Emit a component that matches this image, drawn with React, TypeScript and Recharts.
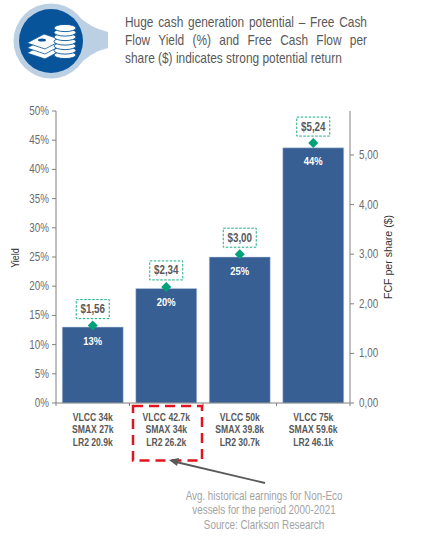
import { ComposedChart, Bar, Line, XAxis, YAxis, LabelList } from "recharts"

const vlcc = ["VLCC 34k", "VLCC 42.7k", "VLCC 50k", "VLCC 75k"]
const smax = ["SMAX 27k", "SMAX 34k", "SMAX 39.8k", "SMAX 59.6k"]
const lr2 = ["LR2 20.9k", "LR2 26.2k", "LR2 30.7k", "LR2 46.1k"]
const yieldPct = [13, 19.6, 25, 43.7]
const yieldLabels = ["13%", "20%", "25%", "44%"]
const fcfPerShare = [1.56, 2.34, 3.0, 5.24]
const leftTicks = [0, 5, 10, 15, 20, 25, 30, 35, 40, 45, 50]
const rightTicks = [0, 1, 2, 3, 4, 5]

const data = vlcc.map((v, i) => ({
  idx: i,
  yield: yieldPct[i],
  fcf: fcfPerShare[i],
}))

const FONT = '"Liberation Sans", Arial, sans-serif'
const BLUE = "#375f93"
const GREEN = "#00a27a"
const GREY = "#808080"
const SQUEEZE = 0.82 // no narrow font installed, so squeeze the regular one

function NarrowText({ x, y, anchor = "middle", size, bold, fill, children }: any) {
  return (
    <text
      transform={`translate(${x},${y}) scale(${SQUEEZE},1)`}
      textAnchor={anchor}
      fontSize={size}
      fontWeight={bold ? "bold" : "normal"}
      fill={fill}
      fontFamily={FONT}
    >
      {children}
    </text>
  )
}

function CategoryTick({ x, payload }: any) {
  const i = payload.value
  const half = 36.75
  return (
    <g>
      <line x1={x - half} x2={x - half} y1={403} y2={406} stroke={GREY} />
      {i === 3 && <line x1={x + half} x2={x + half} y1={403} y2={406} stroke={GREY} />}
      <NarrowText x={x} y={420.5} size={10.5} bold fill="#595959">{vlcc[i]}</NarrowText>
      <NarrowText x={x} y={432.5} size={10.5} bold fill="#595959">{smax[i]}</NarrowText>
      <NarrowText x={x} y={445.5} size={10.5} bold fill="#595959">{lr2[i]}</NarrowText>
    </g>
  )
}

function LeftTick({ x, y, payload }: any) {
  return <NarrowText x={x} y={y + 4} anchor="end" size={12} fill="#6b6b6b">{`${payload.value}%`}</NarrowText>
}

function RightTick({ x, y, payload }: any) {
  return (
    <NarrowText x={x} y={y + 4} anchor="start" size={12} fill="#6b6b6b">
      {payload.value.toFixed(2).replace(".", ",")}
    </NarrowText>
  )
}

function DiamondDot({ cx, cy, index }: any) {
  return (
    <polygon
      key={index}
      points={`${cx},${cy - 5} ${cx + 5},${cy} ${cx},${cy + 5} ${cx - 5},${cy}`}
      fill={GREEN}
    />
  )
}

function FcfLabel({ x, y, value }: any) {
  const txt = "$" + Number(value).toFixed(2).replace(".", ",")
  return (
    <g>
      <rect x={x - 16.5} y={y - 26} width={33} height={19} fill="#fff" stroke={GREEN} strokeWidth={0.9} strokeDasharray="2.5 1.5" />
      <NarrowText x={x} y={y - 12.5} size={12} bold fill="#595959">{txt}</NarrowText>
    </g>
  )
}

function YieldLabel({ x, y, width, index }: any) {
  return <NarrowText x={x + width / 2} y={y + 17.5} size={11.5} bold fill="#fff">{yieldLabels[index]}</NarrowText>
}

function HeaderIcon() {
  const layers = [10, 5, 0]
  return (
    <svg width={112} height={84} style={{ position: "absolute", left: 0, top: 0 }}>
      <path d="M76 14 Q90 28 108 32 L108 48 Q90 52 76 68 Z" fill="#bcd0e4" />
      <circle cx={51} cy={41} r={37.5} fill="#bcd0e4" />
      <circle cx={51} cy={41} r={32} fill="#07549a" />
      {layers.map((dy) => (
        <polygon
          key={dy}
          points={`27,${43 + dy} 44,${34 + dy} 62,${40 + dy} 45,${49 + dy}`}
          fill="#fff"
          stroke="#07549a"
          strokeWidth={0.8}
        />
      ))}
      <ellipse cx={42} cy={40} rx={4} ry={1.6} fill="#07549a" />
      {[55, 50.5, 46, 41.5, 37, 32.5, 28].map((cy) => (
        <ellipse key={cy} cx={65} cy={cy} rx={11} ry={3.6} fill="#fff" stroke="#07549a" strokeWidth={0.9} />
      ))}
    </svg>
  )
}

const lineStyle: any = {
  position: "absolute",
  left: 125,
  width: 242 / SQUEEZE,
  transform: `scaleX(${SQUEEZE})`,
  transformOrigin: "0 0",
  fontFamily: FONT,
  fontSize: 14.5,
  color: "#595959",
  lineHeight: "18px",
  whiteSpace: "nowrap",
}

export default function App() {
  return (
    <div style={{ position: "absolute", left: 0, top: 0, width: 447, height: 545, background: "#fff", overflow: "hidden" }}>
      <HeaderIcon />
      <div style={{ ...lineStyle, top: 13, textAlign: "justify", textAlignLast: "justify" }}>Huge cash generation potential – Free Cash</div>
      <div style={{ ...lineStyle, top: 31, textAlign: "justify", textAlignLast: "justify" }}>Flow Yield (%) and Free Cash Flow per</div>
      <div style={{ ...lineStyle, top: 49 }}>share ($) indicates strong potential return</div>

      <ComposedChart
        width={447}
        height={545}
        data={data}
        barCategoryGap={6.25}
        margin={{ top: 111, right: 47, bottom: 112, left: 16 }}
        style={{ position: "absolute", left: 0, top: 0 }}
      >
        <XAxis dataKey="idx" height={30} interval={0} tickLine={false} stroke={GREY} tick={<CategoryTick />} />
        <YAxis
          yAxisId="left"
          width={40}
          domain={[0, 50]}
          ticks={leftTicks}
          interval={0}
          tickSize={4}
          tickMargin={3}
          stroke={GREY}
          tick={<LeftTick />}
        />
        <YAxis
          yAxisId="right"
          orientation="right"
          width={50}
          domain={[0, 5.887]}
          ticks={rightTicks}
          interval={0}
          tickSize={4}
          tickMargin={5}
          stroke={GREY}
          tick={<RightTick />}
        />
        <Bar yAxisId="left" dataKey="yield" fill={BLUE} stroke="#c3d2e6" strokeWidth={0.5} isAnimationActive={false}>
          <LabelList dataKey="yield" content={<YieldLabel />} />
        </Bar>
        <Line yAxisId="right" dataKey="fcf" stroke="none" dot={<DiamondDot />} activeDot={false} isAnimationActive={false}>
          <LabelList dataKey="fcf" content={<FcfLabel />} />
        </Line>
      </ComposedChart>

      <svg width={447} height={545} style={{ position: "absolute", left: 0, top: 0, pointerEvents: "none" }}>
        <text transform="translate(18.5,258) rotate(-90) scale(0.82,1)" textAnchor="middle" fontSize={11} fill="#333" fontFamily={FONT}>
          Yield
        </text>
        <text transform="translate(392,257) rotate(-90)" textAnchor="middle" fontSize={10.6} fill="#333" fontFamily={FONT}>
          FCF per share ($)
        </text>
        <rect x={133} y={406} width={69} height={54.5} fill="none" stroke="#e0141f" strokeWidth={2.5} strokeDasharray="10 6" />
        <line x1={265} y1={483} x2={176} y2={462} stroke="#595959" strokeWidth={1.8} />
        <polygon points="169,460 179,458 177,466" fill="#595959" />
        <NarrowText x={264} y={500} size={12} fill="#a3a3a3">Avg. historical earnings for Non-Eco</NarrowText>
        <NarrowText x={264} y={514} size={12} fill="#a3a3a3">vessels for the period 2000-2021</NarrowText>
        <NarrowText x={264} y={529} size={12} fill="#a3a3a3">Source: Clarkson Research</NarrowText>
      </svg>
    </div>
  )
}
